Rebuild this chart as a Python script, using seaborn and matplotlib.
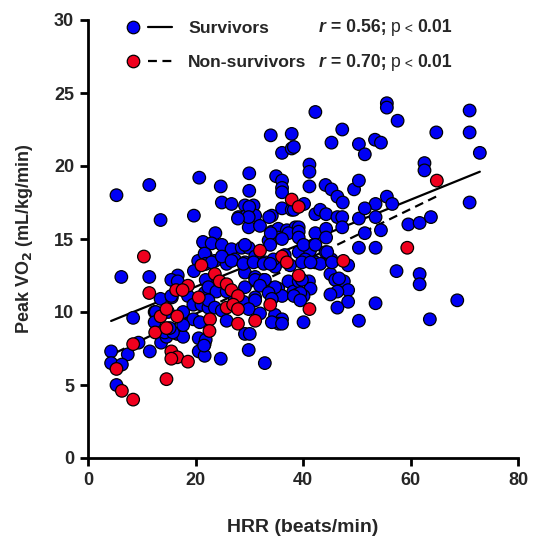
import numpy as np
import pandas as pd
import matplotlib
matplotlib.use("Agg")
import matplotlib.pyplot as plt
import seaborn as sns
from matplotlib.lines import Line2D
from matplotlib.legend_handler import HandlerTuple

# ---------------- data ----------------
surv_x = [5.3, 11.4, 20.7, 24.7, 24.9, 26.7, 13.5, 19.7, 23.7, 21.7, 6.2, 11.4, 13.5, 8.4, 12.4,
          15.6, 17.7, 13.6, 14.6, 16.6, 17.7, 20.6, 21.7, 20.6, 21.7, 24.7, 9.4, 7.4, 4.3, 4.3,
          6.3, 5.3, 14.3, 15.8, 11.5, 21.9, 20.5, 21.7, 19.7, 16.7, 15.5, 16.7, 15.5, 18.6, 19.6,
          21.1, 22.4, 12.6, 14.9, 12.4, 19.6, 20.8, 15.2, 17.7,
          29.2, 30.8, 31.1, 28.0, 29.5, 34.2, 36.1, 37.9, 29.9, 32.0, 34.2, 35.4, 37.0, 38.6,
          21.4, 23.0, 24.9, 26.7, 28.6, 29.9, 33.6, 35.4, 37.3, 21.7, 23.6, 25.8, 27.3, 29.2,
          31.1, 33.0, 34.8, 34.5, 36.6, 22.4, 21.7, 29.2, 31.1, 32.7, 33.6, 35.4, 37.3, 38.2,
          29.2, 31.1, 36.1, 27.3,
          42.3, 34.0, 37.9, 47.3, 45.3, 50.4, 36.1, 37.9, 41.2, 41.2, 30.0, 35.0, 36.1, 36.1,
          36.1, 41.2, 30.0, 44.2, 45.3, 46.4, 47.4, 49.5, 50.4, 30.0, 29.9, 27.9, 40.2, 38.3,
          42.3, 43.2, 44.3, 46.4, 47.3, 47.3, 50.4, 33.7, 34.0, 39.2, 39.2, 42.3, 44.3, 44.3,
          51.5, 53.4, 54.5, 38.3, 55.6, 53.5, 51.5, 53.5, 51.5, 54.5,
          55.6, 55.6, 57.6, 71.0, 64.8, 71.0, 72.9, 62.6, 62.6, 56.6, 71.0, 59.6, 61.7, 63.8,
          50.4, 53.5, 48.4, 57.4, 61.7, 61.7, 47.6, 48.4, 48.4, 53.5, 68.7, 50.4, 63.6,
          39.2, 41.3, 44.2, 40.4, 42.3, 43.2, 45.3, 45.1, 46.0, 46.4, 45.1, 39.2, 41.1, 41.4,
          38.9, 40.1, 46.4, 40.1,
          29.2, 33.9, 36.1, 39.2, 40.1, 42.3, 21.9, 23.0, 24.9, 26.7, 28.9, 30.8, 32.7, 33.9,
          37.6, 39.8, 41.4, 44.5, 45.4, 21.9, 22.4, 23.9, 25.8, 31.1, 32.9, 32.0, 34.8, 33.6,
          39.8, 39.5, 46.7, 22.4, 23.6, 24.9, 28.9, 31.1, 29.9, 32.0, 34.2, 34.8, 36.1, 35.5,
          38.3, 39.5, 25.8, 21.9, 21.6, 29.2, 30.1, 29.9, 32.9, 34.2, 36.1]
surv_y = [18.0, 18.7, 19.2, 18.6, 17.5, 17.4, 16.3, 16.6, 15.4, 14.7, 12.4, 12.4, 10.9, 9.6, 10.0,
          11.0, 10.0, 7.9, 8.3, 8.5, 8.3, 8.2, 7.8, 7.3, 7.0, 6.8, 7.9, 7.1, 7.3, 6.5,
          6.4, 5.0, 8.6, 8.6, 7.3, 13.9, 13.5, 13.3, 12.8, 12.5, 12.2, 12.1, 11.1, 11.1, 10.5,
          10.5, 10.3, 10.0, 10.0, 9.3, 9.5, 9.3, 8.9, 9.1,
          17.3, 17.3, 16.6, 16.5, 16.6, 16.6, 17.1, 17.0, 15.8, 15.9, 15.5, 15.7, 15.6, 15.8,
          14.8, 14.7, 14.6, 14.3, 14.4, 14.4, 14.9, 15.1, 15.4, 14.0, 13.5, 13.3, 13.6, 13.4,
          13.8, 13.4, 13.1, 13.6, 13.9, 11.9, 11.3, 12.7, 12.4, 12.2, 11.7, 11.6, 12.1, 11.4,
          11.7, 11.0, 11.1, 10.9,
          23.7, 22.1, 22.2, 22.5, 21.6, 21.5, 20.9, 21.2, 20.1, 19.6, 19.5, 19.3, 19.0, 18.5,
          18.2, 18.6, 18.3, 18.7, 18.4, 17.9, 17.5, 18.4, 19.0, 17.2, 16.5, 16.4, 17.4, 17.0,
          16.7, 17.0, 16.7, 16.5, 16.5, 15.8, 16.4, 16.5, 15.4, 15.8, 15.5, 15.4, 15.7, 15.1,
          20.8, 21.8, 21.6, 21.3, 17.9, 17.4, 17.1, 16.5, 15.4, 15.6,
          24.3, 24.0, 23.1, 23.8, 22.3, 22.3, 20.9, 20.2, 19.7, 17.4, 17.5, 16.0, 16.1, 16.5,
          14.4, 14.4, 13.2, 12.8, 12.6, 11.9, 12.1, 11.5, 10.7, 10.6, 10.8, 9.4, 9.5,
          14.1, 14.2, 14.1, 13.6, 13.4, 13.3, 13.6, 12.6, 12.2, 11.4, 11.2, 12.1, 12.1, 11.6,
          11.2, 11.1, 10.3, 9.3,
          14.6, 14.6, 15.0, 15.1, 14.6, 14.6, 13.3, 13.4, 13.8, 13.5, 13.3, 13.4, 13.3, 13.3,
          13.2, 13.4, 13.4, 14.1, 13.4, 12.2, 11.7, 11.4, 11.4, 12.2, 12.2, 11.8, 11.7, 11.3,
          12.2, 11.3, 12.3, 10.8, 10.3, 10.1, 10.7, 10.8, 10.2, 9.9, 10.9, 9.8, 9.5, 9.2,
          11.1, 10.8, 9.4, 8.1, 7.7, 8.5, 8.5, 7.4, 6.5, 9.3, 9.2]

non_x = [10.4, 11.4, 13.5, 14.6, 16.6, 12.5, 14.6, 15.5, 16.6, 15.5, 18.6, 14.6, 8.4, 5.3,
         6.3, 8.4, 23.6, 18.6, 16.4, 17.6, 20.6, 32.0, 36.1, 37.0, 39.2, 24.5, 25.8, 26.7,
         27.9, 21.1, 37.9, 39.2, 64.9, 59.4, 47.5, 41.2, 25.8, 27.0, 27.9, 31.1, 33.9, 22.7,
         27.9, 22.6]
non_y = [13.8, 11.3, 9.7, 10.2, 9.7, 8.6, 8.9, 7.3, 6.9, 6.8, 6.6, 5.4, 7.8, 6.1,
         4.6, 4.0, 12.6, 11.8, 11.5, 11.5, 11.0, 14.2, 13.8, 13.4, 12.5, 12.1, 11.9, 11.5,
         11.1, 13.2, 17.7, 17.2, 19.0, 14.4, 13.5, 10.2, 10.3, 10.5, 10.2, 9.4, 10.5, 9.5,
         9.2, 8.7]

groups = ["Survivors", "Non-survivors"]
stats = ["0.56", "0.70"]
x_ticks = [0, 20, 40, 60, 80]
y_ticks = [0, 5, 10, 15, 20, 25, 30]

df = pd.DataFrame({
    "HRR": surv_x + non_x,
    "VO2": surv_y + non_y,
    "group": [groups[0]] * len(surv_x) + [groups[1]] * len(non_x),
})

# ---------------- style ----------------
sns.set_theme(style="ticks")
plt.rcParams["font.family"] = ["Liberation Sans", "DejaVu Sans"]
plt.rcParams["font.weight"] = "bold"
plt.rcParams["axes.labelweight"] = "bold"

BLUE = "#0000F5"
RED = "#F0001E"
palette = {groups[0]: BLUE, groups[1]: RED}
DASH = (0, (4, 2.5))

fig = plt.figure(figsize=(5.38, 5.41), dpi=100)
ax = fig.add_axes([88 / 538, 1 - 458 / 541, 430 / 538, 438 / 541])

# regression lines
sns.regplot(data=df[df.group == groups[0]], x="HRR", y="VO2", scatter=False, ci=None,
            ax=ax, line_kws=dict(color="black", lw=1.6, ls="-", zorder=1))
sns.regplot(data=df[df.group == groups[1]], x="HRR", y="VO2", scatter=False, ci=None,
            ax=ax, line_kws=dict(color="black", lw=1.6, ls=DASH, zorder=1))

# points
sns.scatterplot(data=df, x="HRR", y="VO2", hue="group", palette=palette, s=82,
                edgecolor="black", linewidth=0.9, ax=ax, legend=False, zorder=3)

ax.set_xlim(0, 80)
ax.set_ylim(0, 30)
ax.set_xticks(x_ticks)
ax.set_yticks(y_ticks)
ax.set_xlabel("HRR (beats/min)", fontsize=14, fontweight="bold", labelpad=22)
ax.set_ylabel("Peak VO$_\\mathbf{2}$ (mL/kg/min)", fontsize=13, fontweight="bold", labelpad=14)
for lab in ax.get_xticklabels() + ax.get_yticklabels():
    lab.set_fontweight("bold")
    lab.set_fontsize(13)
ax.tick_params(width=2, length=6, color="black", pad=4)
for side in ["left", "bottom"]:
    ax.spines[side].set_linewidth(2)
    ax.spines[side].set_color("black")
sns.despine(ax=ax)

# legend
LFS = 12.6
h1 = (Line2D([], [], marker="o", ls="none", markerfacecolor=BLUE, markeredgecolor="black",
             markersize=9, markeredgewidth=0.9),
      Line2D([], [], color="black", lw=1.6, ls="-"))
h2 = (Line2D([], [], marker="o", ls="none", markerfacecolor=RED, markeredgecolor="black",
             markersize=9, markeredgewidth=0.9),
      Line2D([], [], color="black", lw=1.6, ls=DASH))
leg = ax.legend([h1, h2], groups, handler_map={tuple: HandlerTuple(ndivide=None, pad=0.17)},
                loc="upper left", bbox_to_anchor=(0.077, 0.998), frameon=False,
                borderpad=0, borderaxespad=0,
                handlelength=2.9, handletextpad=0.92, labelspacing=1.05,
                prop=dict(family="Liberation Sans", weight="bold", size=LFS))

row_y = [0.984, 0.904]
for yy, st in zip(row_y, stats):
    t1 = ax.text(0.537, yy, "r", transform=ax.transAxes, fontsize=12.7, fontweight="bold",
                 fontstyle="italic", va="center", ha="left")
    t2 = ax.annotate(" = " + st + "; ", xy=(1, 0), xycoords=t1, va="bottom", ha="left",
                     fontsize=12.7, fontweight="bold")
    t3 = ax.annotate("p", xy=(1, 0), xycoords=t2, va="bottom", ha="left",
                     fontsize=12.7, fontweight="normal")
    t4 = ax.annotate(" < ", xy=(1, 0), xycoords=t3, va="bottom", ha="left",
                     fontsize=10, fontweight="normal")
    ax.annotate("0.01", xy=(1, 0), xycoords=t4, va="bottom", ha="left",
                fontsize=12.7, fontweight="bold")

fig.savefig("out.png", dpi=100)
